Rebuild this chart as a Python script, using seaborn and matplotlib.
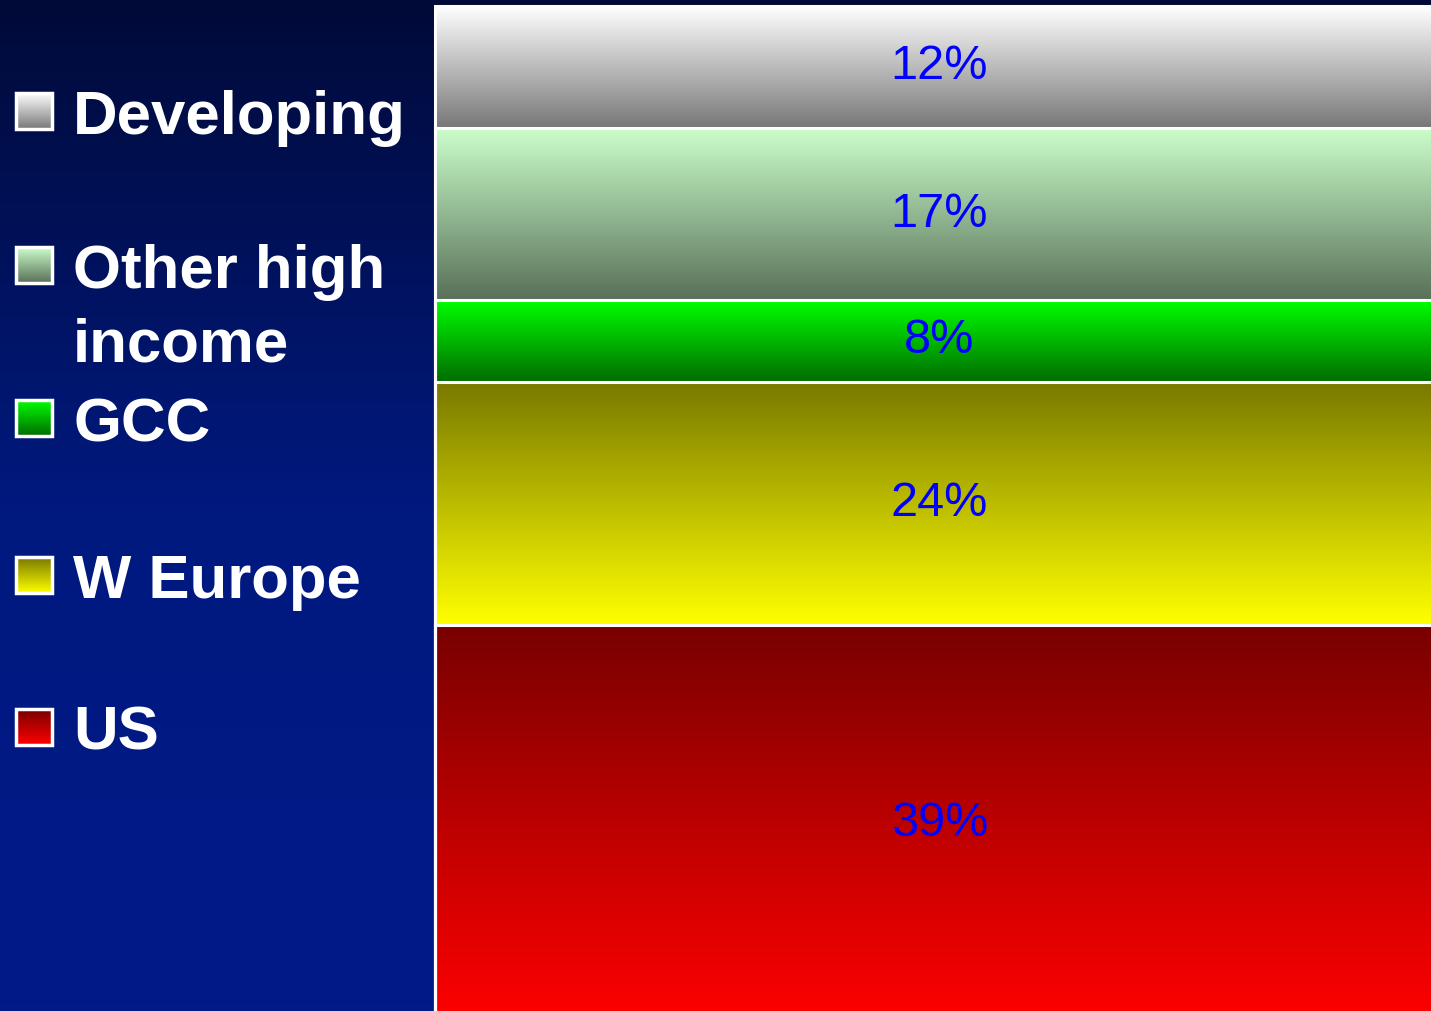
import numpy as np
import pandas as pd
import matplotlib
matplotlib.use("Agg")
import matplotlib.pyplot as plt
import seaborn as sns
from matplotlib.colors import LinearSegmentedColormap
from matplotlib.patches import Rectangle

# ---------------- data (bottom -> top of the stacked bar) ----------------
regions = ["US", "W Europe", "GCC", "Other high income", "Developing"]
shares = [39, 24, 8, 17, 12]
legend_labels = ["US", "W Europe", "GCC", "Other high\nincome", "Developing"]
top_colors = ["#780000", "#787800", "#00ff00", "#ccffcc", "#ffffff"]
bottom_colors = ["#ff0000", "#ffff00", "#006c00", "#587058", "#777777"]

sns.set_style("white")
plt.rcParams["font.family"] = ["Liberation Sans", "DejaVu Sans"]

W, H = 1431, 1011
fig = plt.figure(figsize=(W / 100, H / 100), dpi=100)

# background gradient
bg = fig.add_axes([0, 0, 1, 1], zorder=-10)
bg_cmap = LinearSegmentedColormap.from_list("bg", ["#000a38", "#00197f", "#001a88"])
bg.imshow(np.linspace(0, 1, 256).reshape(-1, 1), cmap=bg_cmap, aspect="auto",
          extent=(0, 1, 0, 1), origin="upper", interpolation="bilinear")
bg.axis("off")

# stacked bar
df = pd.DataFrame({"region": regions, "share": shares})
df["top"] = df["share"].cumsum()
df["bottom"] = df["top"] - df["share"]
df["bar"] = "Share"

ax = fig.add_axes([433 / W, 0, 1 - 433 / W, 1])
ax.set_facecolor("none")
sns.barplot(data=df, x="bar", y="top", hue="region", hue_order=regions[::-1],
            palette=["white"] * len(regions), dodge=False, fill=False,
            linewidth=2.2, legend=False, errorbar=None, ax=ax, zorder=3)

bar = ax.patches[0]
x0, x1 = bar.get_x(), bar.get_x() + bar.get_width()
grad = np.linspace(0, 1, 256).reshape(-1, 1)
for _, row in df.iterrows():
    i = regions.index(row["region"])
    cmap = LinearSegmentedColormap.from_list(row["region"], [top_colors[i], bottom_colors[i]])
    ax.imshow(grad, cmap=cmap, aspect="auto", origin="upper", interpolation="bilinear",
              extent=(x0, x1, row["bottom"], row["top"]), zorder=1)
    ax.text((x0 + x1) / 2 - 0.002, (row["bottom"] + row["top"]) / 2, f"{row['share']:.0f}%",
            ha="center", va="center", color="#0000ff", fontsize=35, zorder=4)

px_per_unit = 1015 / 100.0
ax.set_ylim((1021 - H) / px_per_unit, 100 + 6 / px_per_unit)
xu = bar.get_width() / 1014
ax.set_xlim(x0 - 2 * xu, x0 - 2 * xu + (W - 433) * xu)
ax.axis("off")

# legend panel (top -> bottom)
lax = fig.add_axes([0, 0, 433 / W, 1])
lax.set_xlim(0, 433)
lax.set_ylim(H, 0)
lax.axis("off")
lax.set_facecolor("none")
centers = [111, 265, 418, 575, 727]
for k, idx in enumerate(range(len(regions) - 1, -1, -1)):
    yc = centers[k]
    cmap = LinearSegmentedColormap.from_list("l%d" % k, [top_colors[idx], bottom_colors[idx]])
    lax.imshow(grad, cmap=cmap, aspect="auto", origin="upper", interpolation="bilinear",
               extent=(16, 52, yc + 18, yc - 18), zorder=1)
    lax.add_patch(Rectangle((16, yc - 18), 36, 36, fill=False, edgecolor="white",
                            linewidth=2.5, zorder=2))
    for j, line in enumerate(legend_labels[idx].split("\n")):
        lax.text(73, yc + 23 + j * 73, line, color="white", fontsize=44.5,
                 fontweight="bold", ha="left", va="baseline")

fig.savefig("out.png", dpi=100)
